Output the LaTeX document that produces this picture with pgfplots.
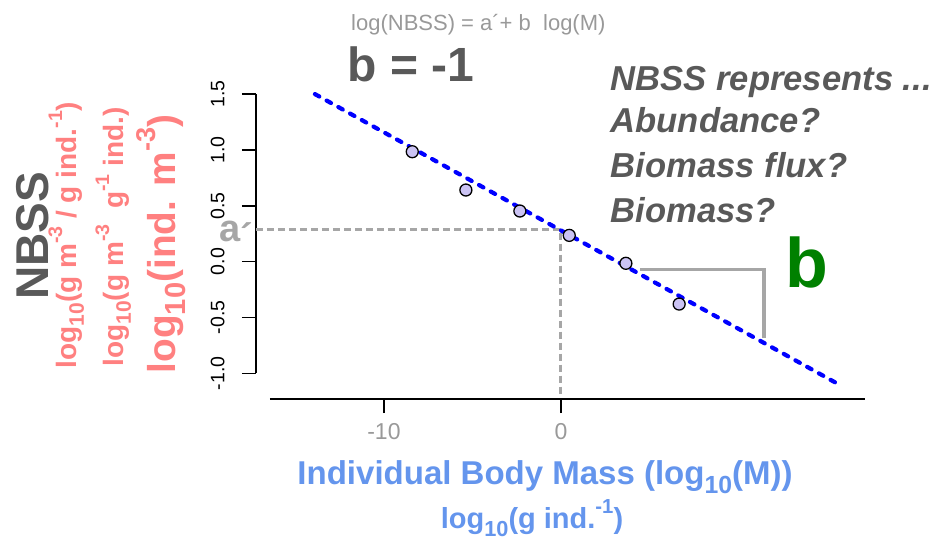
\documentclass[border=0pt]{standalone}
\usepackage{fontspec}
\setmainfont{Liberation Sans}
\usepackage{graphicx}
\usepackage{pgfplots}
\pgfplotsset{compat=1.18}
\definecolor{dg}{HTML}{595959}
\definecolor{lg}{HTML}{999999}
\definecolor{salmon}{HTML}{FF8080}
\definecolor{cfblue}{HTML}{6495ED}
\definecolor{bgreen}{HTML}{008000}
\definecolor{ptfill}{HTML}{CBC3F3}
\definecolor{guide}{HTML}{A6A6A6}
\newcommand\fs[1]{\fontsize{#1}{#1}\selectfont}
\newcommand\sub[1]{\raisebox{-0.28em}{\scalebox{0.75}{#1}}}
\newcommand\sups[1]{\raisebox{0.5em}{\scalebox{0.7}{#1}}}
\begin{document}
\begin{tikzpicture}
\useasboundingbox (0,0) rectangle (938pt,539pt);
\begin{axis}[
  at={(255.8pt,140pt)}, anchor=south west,
  scale only axis, width=609.2pt, height=310.5pt,
  xmin=-17.24, xmax=17.18, ymin=-1.23, ymax=1.55,
  axis x line*=bottom, axis y line*=left, axis line style={draw=none},
  clip=false,
  xtick={-10,0}, xticklabels={-10,0},
  ytick={-1,-0.5,0,0.5,1,1.5}, yticklabels={-1.0,-0.5,0.0,0.5,1.0,1.5},
  tick align=outside, major tick length=14pt,
  tick style={black, line width=1.5pt},
  xticklabel shift=10pt, yticklabel shift=17pt,
  xticklabel style={font=\fs{23}, text=lg, inner sep=0pt, anchor=north},
  yticklabel style={font=\fs{19.5}, rotate=90, anchor=south, inner sep=0pt},
]
\addplot[black, line width=1.6pt] coordinates {(-16.45,-1.23) (17.18,-1.23)};
\addplot[black, line width=1.6pt] coordinates {(-17.24,-1) (-17.24,1.5)};
\addplot[guide, line width=2.8pt, dash pattern=on 7pt off 4pt] coordinates {(-17.24,0.289) (-0.03,0.289) (-0.03,-1.21)};
\addplot[guide, line width=3.5pt] coordinates {(4.46,-0.071) (11.47,-0.071) (11.47,-0.687)};
\addplot[only marks, mark=*, mark size=6pt, mark options={fill=ptfill, draw=black, line width=1.3pt}] coordinates {
(-8.40,0.984) (-5.37,0.641) (-2.32,0.453) (0.47,0.235) (3.67,-0.015) (6.68,-0.38)};
\addplot[blue, line width=4.2pt, line cap=round, dash pattern=on 5pt off 8.4pt] coordinates {(-13.9,1.50) (15.48,-1.08)};
\end{axis}
\node[anchor=base west, font=\fs{22}, text=lg, inner sep=0pt] at (351pt,508pt) {log(NBSS) = a´+ b\ \ log(M)};
\node[anchor=base, font=\bfseries\fs{48}, text=dg, inner sep=0pt] at (411pt,457pt) {b = -1};
\begin{scope}[every node/.style={anchor=base west, font=\bfseries\itshape\fs{34.6}, text=dg, inner sep=0pt}]
\node at (610.5pt,448.3pt) {NBSS represents ...};
\node at (610.5pt,406pt) {Abundance?};
\node at (610.5pt,361pt) {Biomass flux?};
\node at (610.5pt,316.3pt) {Biomass?};
\end{scope}
\node[anchor=base west, font=\bfseries\fs{70}, text=bgreen, inner sep=0pt] at (785pt,251pt) {b};
\node[anchor=base, font=\bfseries\fs{38}, text=guide, inner sep=0pt] at (236pt,297pt) {a\raisebox{-0.22em}{´}};
\node[rotate=90, anchor=base, font=\bfseries\fs{46}, text=dg, inner sep=0pt] at (48.3pt,303pt) {NBSS};
\node[rotate=90, anchor=base, font=\bfseries\fs{28}, text=salmon, inner sep=0pt] at (76pt,304pt) {log\sub{10}(g m\sups{-3} / g ind.\sups{-1})};
\node[rotate=90, anchor=base, font=\bfseries\fs{28}, text=salmon, inner sep=0pt] at (123pt,302pt) {log\sub{10}(g m\sups{-3}\ \ g\sups{-1} ind.)};
\node[rotate=90, anchor=base, font=\bfseries\fs{38.8}, text=salmon, inner sep=0pt] at (175pt,295pt) {log\sub{10}(ind. m\sups{-3})};
\node[anchor=base, font=\bfseries\fs{33}, text=cfblue, inner sep=0pt] at (545pt,55pt) {Individual Body Mass (log\sub{10}(M))};
\node[anchor=base, font=\bfseries\fs{29}, text=cfblue, inner sep=0pt] at (532pt,11pt) {log\sub{10}(g ind.\sups{-1})};
\end{tikzpicture}
\end{document}
